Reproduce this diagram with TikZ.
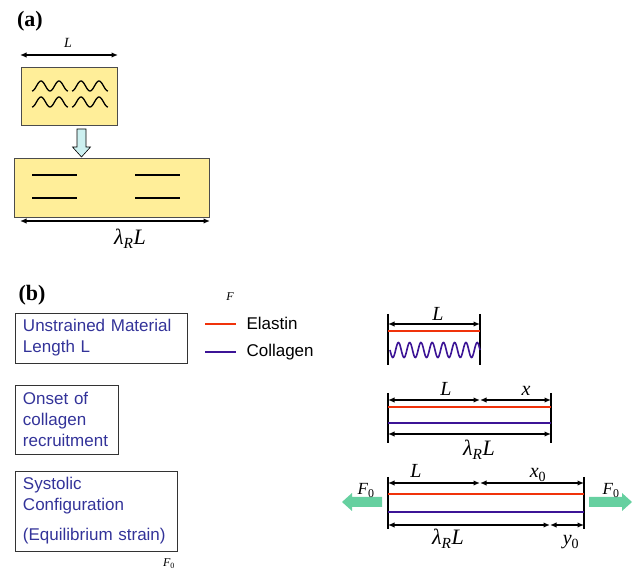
\documentclass[tikz,border=0pt]{standalone}
\usepackage{fontspec}
\setmainfont{Liberation Serif}
\newfontfamily\labelsans{Liberation Sans}
\usetikzlibrary{arrows.meta}

\definecolor{paleyellow}{RGB}{255,238,153}
\definecolor{palecyan}{RGB}{204,240,240}
\definecolor{elastinred}{RGB}{240,50,10}
\definecolor{collagenblue}{RGB}{60,20,150}
\definecolor{boxtext}{RGB}{51,51,153}
\definecolor{forcegreen}{RGB}{102,208,160}

\newcommand{\itsub}[2]{\textit{#1}\textsubscript{\upshape #2}}

\tikzset{
  dimline/.style={{Latex[length=6.5pt,width=5.5pt]}-{Latex[length=6.5pt,width=5.5pt]}, line width=1.4pt},
  endbar/.style={line width=2.2pt},
  tissue/.style={draw=black!70, fill=paleyellow, line width=0.8pt, inner sep=0pt, outer sep=0pt, anchor=north west},
  statebox/.style={draw=black!80, line width=0.8pt, anchor=north west, inner xsep=8pt, inner ysep=0pt, outer sep=0pt, align=left, text=boxtext, font=\labelsans\fontsize{17}{21}\selectfont},
  legendtext/.style={anchor=base west, font=\labelsans\fontsize{17}{21}\selectfont},
  mathlabel/.style={anchor=base, font=\itshape\fontsize{20}{22}\selectfont},
  biglabel/.style={anchor=base, font=\itshape\fontsize{22}{24}\selectfont},
  elastin/.style={draw=elastinred, line width=1.2pt},
  collagen/.style={draw=collagenblue, line width=1.2pt},
}

\begin{document}
\begin{tikzpicture}[x=1pt, y=-1pt]
          \useasboundingbox (0,0) rectangle (633,572);
          % (a)
          \node[font=\bfseries\fontsize{22}{24}\selectfont] (tagA) at (30,21) {(a)};
          \node[anchor=base, font=\itshape\fontsize{14}{16}\selectfont] (lenA) at (68,48) {L};
          \draw[dimline] (20,55) -- (118,55);
          \node[tissue, minimum width=96, minimum height=58] (crimped) at (21,67) {};
          \foreach \gx in {32,72}
            \foreach \gy in {86,102}
              \draw[line width=1.3pt, domain=0:36, samples=50, smooth] plot ({\gx+\x}, {\gy+5*cos(20*\x)});
          \draw[fill=palecyan, line width=0.6pt] (77,129) -- (86,129) -- (86,147) -- (90.5,147) -- (81.5,157)
            -- (72.5,147) -- (77,147) -- cycle;
          \node[tissue, minimum width=195, minimum height=59] (stretched) at (14,158) {};
          \foreach \gx in {32,135}
            \foreach \gy in {175,198}
              \draw[line width=1.2pt] (\gx,\gy) -- ++(45,0);
          \draw[dimline] (20,221) -- (210,221);
          \node[biglabel] (lamA) at (130,245) {λ\textsubscript{R}L};
          % (b) boxes and legend
          \node[font=\bfseries\fontsize{22}{24}\selectfont] (tagB) at (32,295) {(b)};
          \node[font=\itshape\fontsize{12}{14}\selectfont] (fTop) at (230,297) {F};
          \node[statebox, text width=156, minimum height=50] (unstrained) at (15,313)
            {Unstrained Material\\Length L};
          \node[statebox, text width=87, minimum height=69] (onset) at (15,385)
            {Onset of\\collagen\\recruitment};
          \node[statebox, text width=146, minimum height=80] (systolic) at (15,471)
            {Systolic\\Configuration\\[9pt](Equilibrium strain)};
          \node[anchor=base, font=\fontsize{12}{14}\selectfont] (fBottom) at (169,567) {\itsub{F}{0}};
          \draw[elastin] (205,324) -- (236,324);
          \node[legendtext] (elastinKey) at (243,330) {Elastin};
          \draw[collagen] (205,352) -- (236,352);
          \node[legendtext] (collagenKey) at (243,357) {Collagen};
          % (b) unstrained
          \draw[endbar] (388,314) -- (388,365);
          \draw[endbar] (480,314) -- (480,365);
          \draw[dimline] (388,324) -- (480,324);
          \node[mathlabel] (lenB) at (438,321) {L};
          \draw[elastin] (388,331) -- (480,331);
          \draw[collagen, line width=1.6pt, domain=390:480, samples=200, smooth] plot (\x, {350+7.5*sin(32*(\x-390))});
          % (b) onset
          \draw[endbar] (388,393) -- (388,443);
          \draw[endbar] (551,393) -- (551,443);
          \draw[dimline] (388,400) -- (480,400);
          \draw[dimline] (480,400) -- (551,400);
          \node[mathlabel] (lenC) at (446,396) {L};
          \node[mathlabel] (extC) at (526,396) {x};
          \draw[elastin] (388,407) -- (551,407);
          \draw[collagen] (388,423) -- (551,423);
          \draw[dimline] (388,434) -- (551,434);
          \node[biglabel] (lamC) at (479,456) {λ\textsubscript{R}L};
          % (b) systolic
          \draw[endbar] (388,477) -- (388,529);
          \draw[endbar] (584,477) -- (584,529);
          \draw[dimline] (388,483) -- (480,483);
          \draw[dimline] (480,483) -- (584,483);
          \node[mathlabel] (lenD) at (416,478) {L};
          \node[mathlabel] (extD) at (538,478) {\itsub{x}{0}};
          \draw[elastin, line width=2pt] (388,494) -- (584,494);
          \draw[collagen, line width=2pt] (388,512) -- (584,512);
          \draw[dimline] (388,525) -- (550,525);
          \draw[dimline] (550,525) -- (584,525);
          \node[biglabel] (lamD) at (448,545) {λ\textsubscript{R}L};
          \node[mathlabel] (slackD) at (571,545) {\itsub{y}{0}};
          \fill[forcegreen] (382,497) -- (352,497) -- (352,493) -- (342,502) -- (352,511) -- (352,507) -- (382,507) -- cycle;
          \fill[forcegreen] (589,497) -- (622,497) -- (622,493) -- (632,502) -- (622,511) -- (622,507) -- (589,507) -- cycle;
          \node[anchor=base, font=\fontsize{17}{19}\selectfont] (forceL) at (366,495) {\itsub{F}{0}};
          \node[anchor=base, font=\fontsize{17}{19}\selectfont] (forceR) at (611,495) {\itsub{F}{0}};
        \end{tikzpicture}
\end{document}
